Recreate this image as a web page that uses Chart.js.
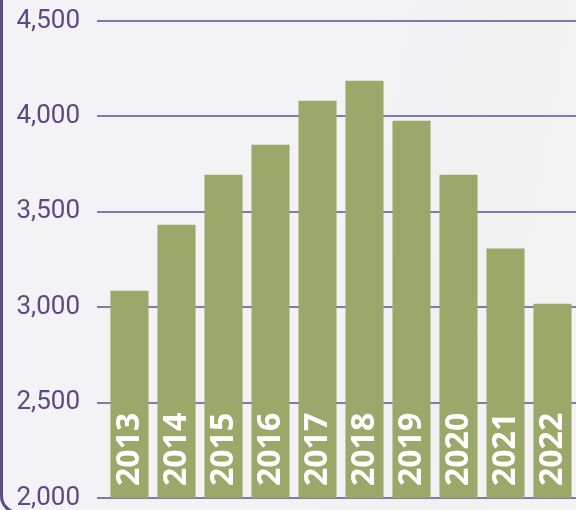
<!DOCTYPE html>
<html>
<head>
<meta charset="utf-8">
<script src="https://cdn.jsdelivr.net/npm/chart.js@4/dist/chart.umd.min.js"></script>
<style>
  html, body { margin: 0; padding: 0; }
  body { width: 576px; height: 510px; overflow: hidden; position: relative;
         background: linear-gradient(100deg, #f3f2f5 0%, #f3f2f5 55%, #f1f1f2 75%, #f4f4f5 100%); }
  #wrap { position: absolute; left: 0; top: 0; width: 576px; height: 510px; }
  #frame { position: absolute; left: 0; top: -30px; width: 700px; height: 544px;
           box-sizing: border-box; border-left: 3px solid #5d4b85; border-bottom: 3px solid #5d4b85;
           border-bottom-left-radius: 18px; pointer-events: none; }
</style>
</head>
<body>
<div id="wrap"><canvas id="chart" width="576" height="510"></canvas></div>
<div id="frame"></div>
<script>
// Data
const years  = ['2013', '2014', '2015', '2016', '2017', '2018', '2019', '2020', '2021', '2022'];
const values = [3086, 3432, 3694, 3852, 4082, 4187, 3977, 3694, 3307, 3018];
const yTicks = [2000, 2500, 3000, 3500, 4000, 4500];

const BAR_GREEN = '#9aa86a';
const PURPLE    = '#5b4a82';
const GRID      = '#8577a6';

// white rotated year labels sitting inside the bottom of each bar
const yearLabels = {
  id: 'yearLabels',
  afterDraw(chart) {
    const ctx = chart.ctx;
    const xs = chart.scales.x;
    const base = chart.scales.y.getPixelForValue(yTicks[0]);
    ctx.save();
    ctx.fillStyle = '#ffffff';
    ctx.font = 'bold 32px "Open Sans", sans-serif';
    ctx.textAlign = 'left';
    ctx.textBaseline = 'alphabetic';
    years.forEach((yr, i) => {
      ctx.save();
      ctx.translate(xs.getPixelForValue(i), base - 12);
      ctx.rotate(-Math.PI / 2);
      ctx.fillText(yr, 0, 9);
      ctx.restore();
    });
    ctx.restore();
  }
};

function draw() {
  new Chart(document.getElementById('chart'), {
    type: 'bar',
    data: {
      labels: years,
      datasets: [{
        data: values,
        backgroundColor: BAR_GREEN,
        borderWidth: 0,
        barPercentage: 0.81,
        categoryPercentage: 1,
      }],
    },
    options: {
      responsive: false,
      animation: false,
      layout: { autoPadding: false, padding: { top: 21, bottom: 12, left: 0, right: 0 } },
      plugins: {
        legend: { display: false },
        tooltip: { enabled: false },
      },
      scales: {
        x: { display: false },
        y: {
          min: 2000,
          max: 4500,
          // fixed axis width, and no extra room for the half-labels at the ends
          afterFit: s => {
            s.width = 106;
            s.paddingTop = 0;
            s.paddingBottom = 0;
          },
          afterBuildTicks: s => { s.ticks = yTicks.map(v => ({ value: v })); },
          border: { display: false },
          grid: { color: GRID, lineWidth: 2, drawTicks: true, tickLength: 9, tickColor: GRID },
          ticks: {
            padding: 17,
            color: PURPLE,
            font: { family: 'Roboto', size: 26 },
            callback: v => v.toLocaleString('en-US'),
          },
        },
      },
    },
    plugins: [yearLabels],
  });
}

Promise.all([
  document.fonts.load('bold 32px "Open Sans"'),
  document.fonts.load('26px Roboto'),
]).then(draw, draw);
</script>
</body>
</html>
